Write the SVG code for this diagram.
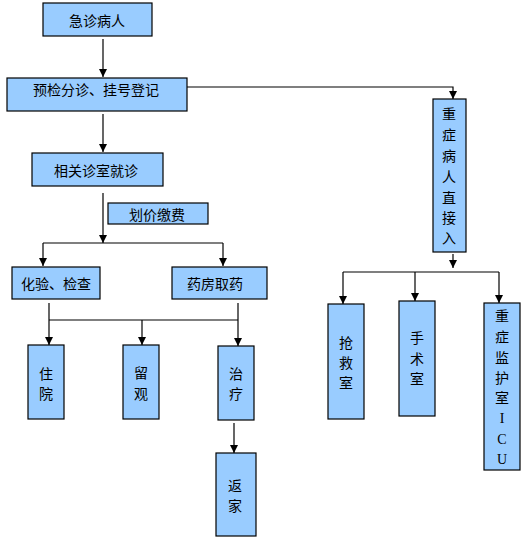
<svg xmlns="http://www.w3.org/2000/svg" width="528" height="542" viewBox="0 0 528 542">
<style>
.box{fill:#99ccff;stroke:#000;stroke-width:1.2}
.t{font-family:"Noto Sans CJK SC","Noto Sans",sans-serif;font-size:14px;fill:#000;text-anchor:middle;dominant-baseline:central}
.s{font-family:"Liberation Serif",serif;font-size:14px;fill:#000;text-anchor:middle;dominant-baseline:central}
.c{fill:none;stroke:#000;stroke-width:1.2}
</style>
<defs>
<marker id="a" markerUnits="userSpaceOnUse" markerWidth="8" markerHeight="8" refX="8" refY="4" orient="auto">
<path d="M0,0 L8,4 L0,8 z" fill="#000"/>
</marker>
</defs>
<rect width="528" height="542" fill="#fff"/>
<g id="connectors">
<path class="c" d="M103,39 V77" marker-end="url(#a)"/>
<path class="c" d="M187,87 H453 V99" marker-end="url(#a)"/>
<path class="c" d="M103,114 V152" marker-end="url(#a)"/>
<path class="c" d="M103,193 V243" marker-end="url(#a)"/>
<path class="c" d="M43,243 H223"/>
<path class="c" d="M43,243 V266" marker-end="url(#a)"/>
<path class="c" d="M223,243 V266" marker-end="url(#a)"/>
<path class="c" d="M49,303 V345" marker-end="url(#a)"/>
<path class="c" d="M238,303 V346" marker-end="url(#a)"/>
<path class="c" d="M49,320 H238"/>
<path class="c" d="M142,320 V345" marker-end="url(#a)"/>
<path class="c" d="M234,423 V453" marker-end="url(#a)"/>
<path class="c" d="M453,254 V268" marker-end="url(#a)"/>
<path class="c" d="M343,272 H499"/>
<path class="c" d="M343,272 V304" marker-end="url(#a)"/>
<path class="c" d="M415,272 V301" marker-end="url(#a)"/>
<path class="c" d="M499,272 V303" marker-end="url(#a)"/>
</g>
<g id="n1"><rect class="box" x="43" y="3" width="109" height="33"/><text class="t" x="97" y="20">急诊病人</text></g>
<g id="n2"><rect class="box" x="7" y="78" width="180" height="33"/><text class="t" x="96" y="89">预检分诊、挂号登记</text></g>
<g id="n3"><rect class="box" x="32" y="153" width="131" height="33"/><text class="t" x="96" y="170">相关诊室就诊</text></g>
<g id="n4"><rect class="box" x="108" y="203" width="100" height="21"/><text class="t" x="157" y="214">划价缴费</text></g>
<g id="n5"><rect class="box" x="12" y="267" width="88" height="32"/><text class="t" x="56" y="283">化验、检查</text></g>
<g id="n6"><rect class="box" x="172" y="267" width="95" height="32"/><text class="t" x="215" y="283">药房取药</text></g>
<g id="n7"><rect class="box" x="28" y="345" width="36" height="74"/><text class="t" x="46" y="373">住</text><text class="t" x="46" y="393">院</text></g>
<g id="n8"><rect class="box" x="123" y="345" width="36" height="74"/><text class="t" x="141" y="372">留</text><text class="t" x="141" y="393">观</text></g>
<g id="n9"><rect class="box" x="218" y="346" width="36" height="74"/><text class="t" x="236" y="373">治</text><text class="t" x="236" y="393">疗</text></g>
<g id="n10"><rect class="box" x="216" y="453" width="40" height="83"/><text class="t" x="235" y="485">返</text><text class="t" x="235" y="505">家</text></g>
<g id="n11"><rect class="box" x="433" y="99" width="33" height="153"/>
<text class="t" x="449" y="113">重</text><text class="t" x="449" y="134">症</text><text class="t" x="449" y="155">病</text><text class="t" x="449" y="176">人</text><text class="t" x="449" y="197">直</text><text class="t" x="449" y="217">接</text><text class="t" x="449" y="237">入</text></g>
<g id="n12"><rect class="box" x="328" y="304" width="36" height="115"/><text class="t" x="346" y="342">抢</text><text class="t" x="346" y="362">救</text><text class="t" x="346" y="382">室</text></g>
<g id="n13"><rect class="box" x="399" y="301" width="36" height="115"/><text class="t" x="417" y="337">手</text><text class="t" x="417" y="358">术</text><text class="t" x="417" y="378">室</text></g>
<g id="n14"><rect class="box" x="484" y="303" width="36" height="167"/>
<text class="t" x="502" y="315">重</text><text class="t" x="502" y="336">症</text><text class="t" x="502" y="357">监</text><text class="t" x="502" y="377">护</text><text class="t" x="502" y="397">室</text><text class="s" x="502" y="418">I</text><text class="s" x="502" y="439">C</text><text class="s" x="502" y="459">U</text></g>
</svg>
